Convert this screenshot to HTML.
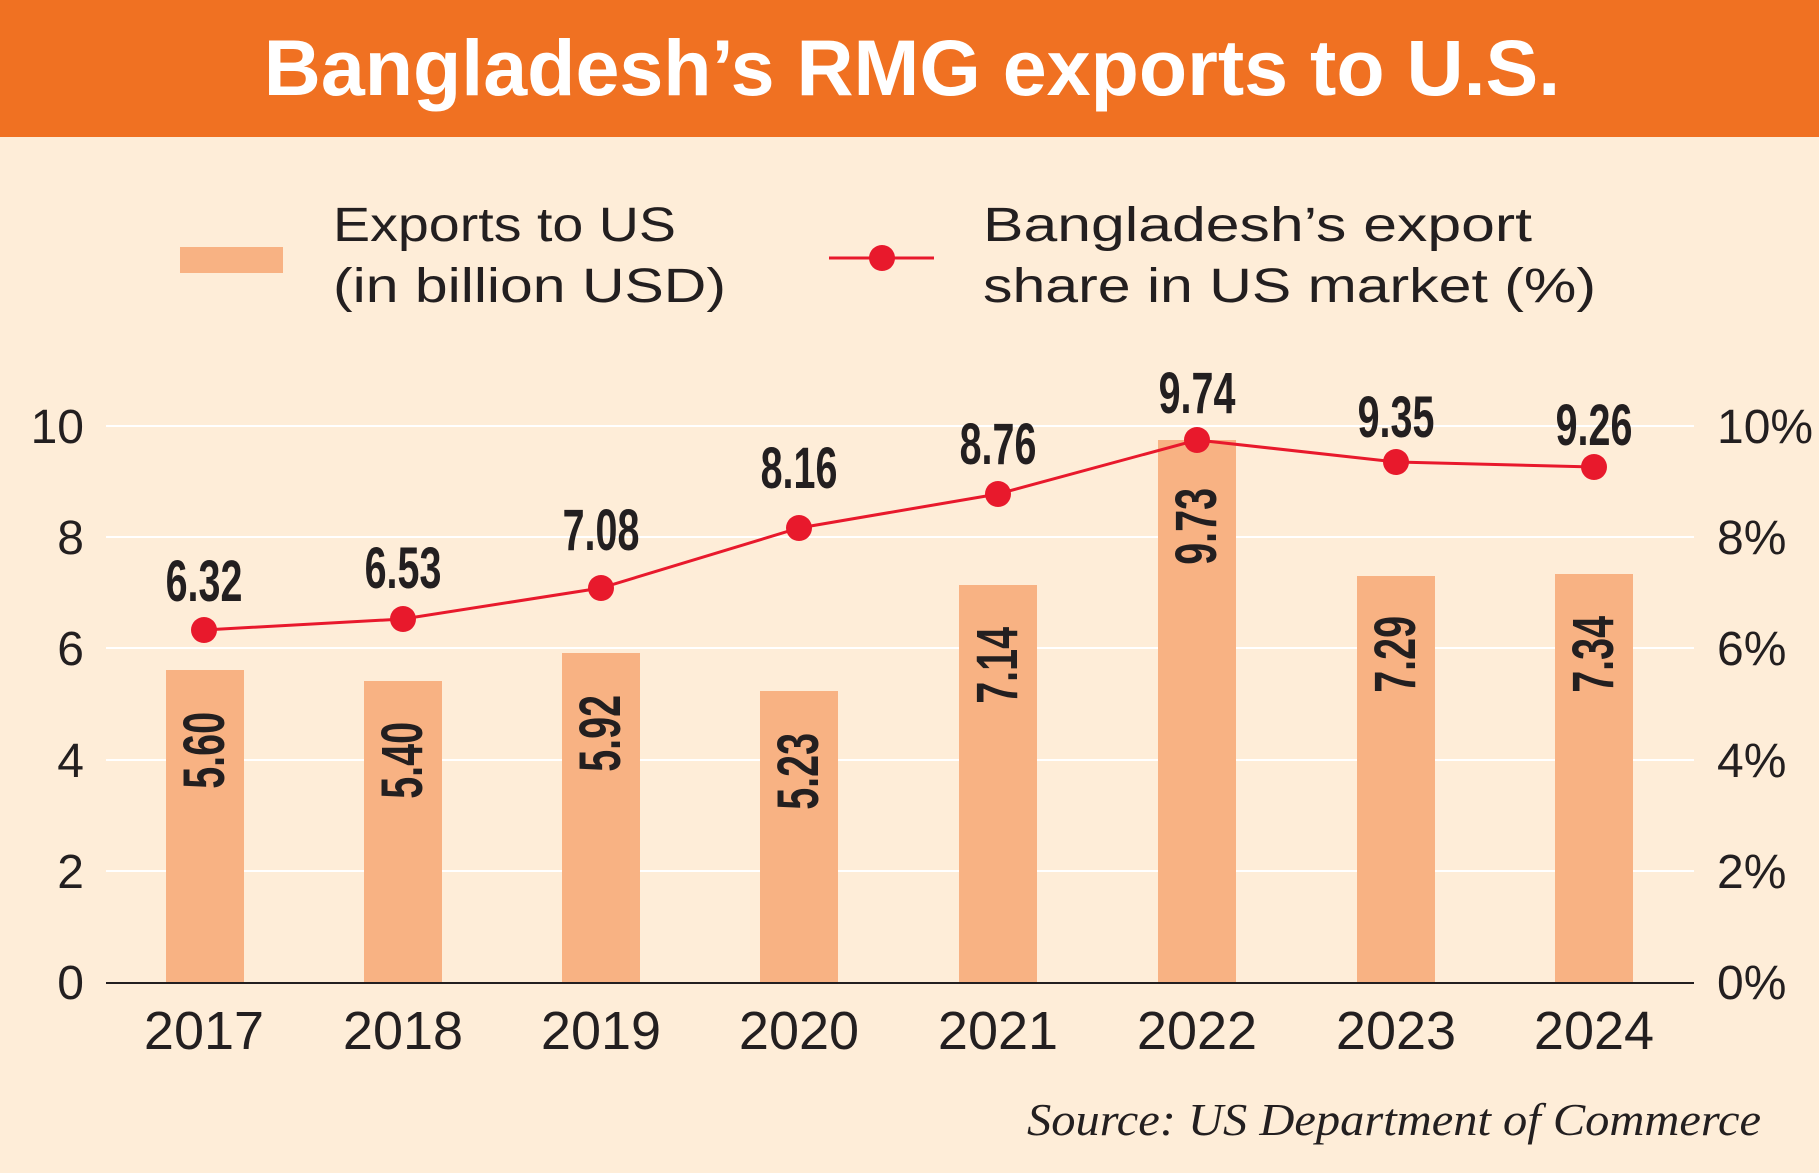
<!DOCTYPE html>
<html><head><meta charset="utf-8"><style>
html,body{margin:0;padding:0;background:#FEEDD8;}
svg{display:block;}
</style></head><body>
<svg width="1819" height="1173" viewBox="0 0 1819 1173" xmlns="http://www.w3.org/2000/svg">
<rect x="0" y="0" width="1819" height="1173" fill="#FEEDD8"/>
<rect x="0" y="0" width="1819" height="137" fill="#F07122"/>
<text x="912" y="95" text-anchor="middle" font-family="Liberation Sans, sans-serif" font-weight="bold" font-size="79" fill="#fff">Bangladesh’s RMG exports to U.S.</text>
<rect x="180" y="247" width="103" height="26" fill="#F8B283"/>
<g font-family="Liberation Sans, sans-serif" font-size="48" fill="#231F20">
<text x="333" y="241" textLength="343" lengthAdjust="spacingAndGlyphs">Exports to US</text>
<text x="333" y="302" textLength="393" lengthAdjust="spacingAndGlyphs">(in billion USD)</text>
<text x="983" y="241" textLength="549" lengthAdjust="spacingAndGlyphs">Bangladesh’s export</text>
<text x="983" y="302" textLength="613" lengthAdjust="spacingAndGlyphs">share in US market (%)</text>
</g>
<line x1="829" y1="258" x2="934" y2="258" stroke="#E8192C" stroke-width="3"/>
<circle cx="882" cy="258" r="13" fill="#E8192C"/>
<g stroke="#fff" stroke-width="2">
<line x1="106" y1="426" x2="1694" y2="426"/><line x1="106" y1="537" x2="1694" y2="537"/>
<line x1="106" y1="648" x2="1694" y2="648"/><line x1="106" y1="760" x2="1694" y2="760"/>
<line x1="106" y1="871" x2="1694" y2="871"/>
</g>
<g font-family="Liberation Sans, sans-serif" font-size="48" fill="#231F20" text-anchor="end">
<text x="84" y="443">10</text><text x="84" y="554">8</text><text x="84" y="665">6</text><text x="84" y="777">4</text><text x="84" y="888">2</text><text x="84" y="999">0</text>
</g>
<g font-family="Liberation Sans, sans-serif" font-size="48" fill="#231F20">
<text x="1717" y="443">10%</text><text x="1717" y="554">8%</text><text x="1717" y="665">6%</text><text x="1717" y="777">4%</text><text x="1717" y="888">2%</text><text x="1717" y="999">0%</text>
</g>
<g fill="#F8B283">
<rect x="166" y="670" width="78" height="312"/>
<rect x="364" y="681" width="78" height="301"/>
<rect x="562" y="653" width="78" height="329"/>
<rect x="760" y="691" width="78" height="291"/>
<rect x="959" y="585" width="78" height="397"/>
<rect x="1158" y="440" width="78" height="542"/>
<rect x="1357" y="576" width="78" height="406"/>
<rect x="1555" y="574" width="78" height="408"/>
</g>
<line x1="106" y1="983" x2="1694" y2="983" stroke="#231F20" stroke-width="2"/>
<g font-family="Liberation Sans, sans-serif" font-weight="bold" font-size="58" fill="#231F20" text-anchor="end">
<text transform="translate(224,712) rotate(-90) scale(0.68,1)">5.60</text>
<text transform="translate(422,722) rotate(-90) scale(0.68,1)">5.40</text>
<text transform="translate(620,695) rotate(-90) scale(0.68,1)">5.92</text>
<text transform="translate(818,733) rotate(-90) scale(0.68,1)">5.23</text>
<text transform="translate(1017,627) rotate(-90) scale(0.68,1)">7.14</text>
<text transform="translate(1216,488) rotate(-90) scale(0.68,1)">9.73</text>
<text transform="translate(1415,616) rotate(-90) scale(0.68,1)">7.29</text>
<text transform="translate(1613,616) rotate(-90) scale(0.68,1)">7.34</text>
</g>
<polyline fill="none" stroke="#E8192C" stroke-width="3" points="204,630 403,619 601,588 799,528 998,494 1197,440 1396,462 1594,467"/>
<g fill="#E8192C">
<circle cx="204" cy="630" r="13"/><circle cx="403" cy="619" r="13"/><circle cx="601" cy="588" r="13"/><circle cx="799" cy="528" r="13"/>
<circle cx="998" cy="494" r="13"/><circle cx="1197" cy="440" r="13"/><circle cx="1396" cy="462" r="13"/><circle cx="1594" cy="467" r="13"/>
</g>
<g font-family="Liberation Sans, sans-serif" font-weight="bold" font-size="58" fill="#231F20" text-anchor="middle">
<text transform="translate(204,601) scale(0.68,1)">6.32</text>
<text transform="translate(403,588) scale(0.68,1)">6.53</text>
<text transform="translate(601,550) scale(0.68,1)">7.08</text>
<text transform="translate(799,488) scale(0.68,1)">8.16</text>
<text transform="translate(998,464) scale(0.68,1)">8.76</text>
<text transform="translate(1197,413) scale(0.68,1)">9.74</text>
<text transform="translate(1396,437) scale(0.68,1)">9.35</text>
<text transform="translate(1594,445) scale(0.68,1)">9.26</text>
</g>
<g font-family="Liberation Sans, sans-serif" font-size="54" fill="#231F20" text-anchor="middle">
<text x="204" y="1049">2017</text><text x="403" y="1049">2018</text><text x="601" y="1049">2019</text><text x="799" y="1049">2020</text>
<text x="998" y="1049">2021</text><text x="1197" y="1049">2022</text><text x="1396" y="1049">2023</text><text x="1594" y="1049">2024</text>
</g>
<text x="1027" y="1135" textLength="734" lengthAdjust="spacingAndGlyphs" font-family="Liberation Serif, serif" font-style="italic" font-size="46" fill="#231F20">Source: US Department of Commerce</text>
</svg>
</body></html>
